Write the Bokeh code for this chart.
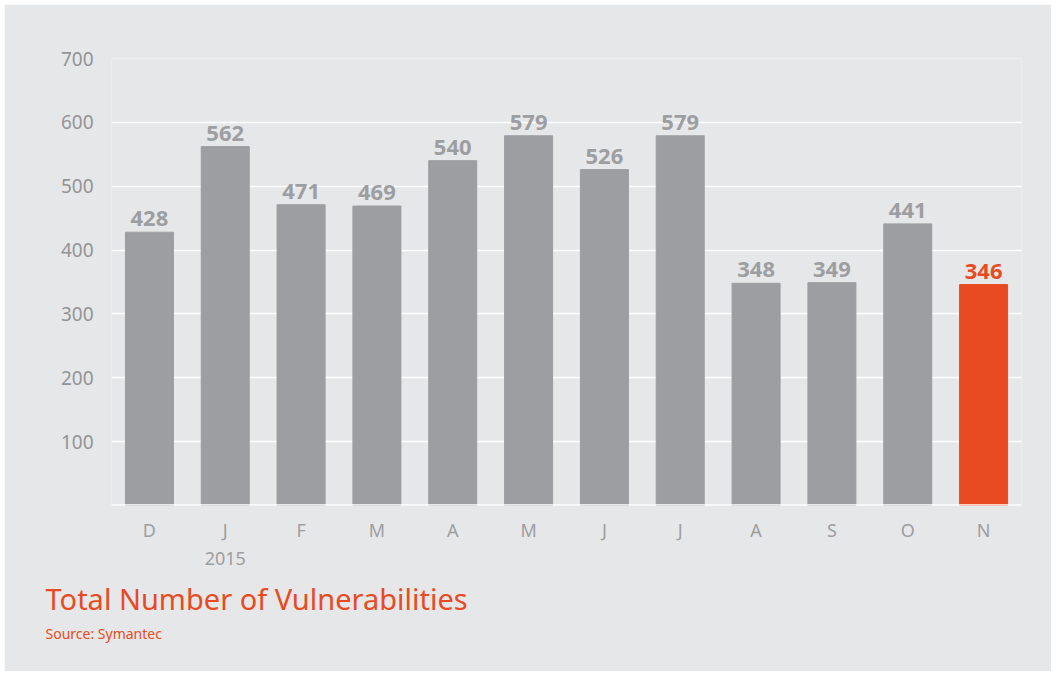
from bokeh.plotting import figure
from bokeh.models import Range1d, FixedTicker, ColumnDataSource, Span, Title
from bokeh.core.properties import value
from bokeh.embed import file_html
from bokeh.resources import INLINE

months = ["D", "J", "F", "M", "A", "M", "J", "J", "A", "S", "O", "N"]
counts = [428, 562, 471, 469, 540, 579, 526, 579, 348, 349, 441, 346]
year_label = "2015"
y_ticks = [100, 200, 300, 400, 500, 600, 700]

GRAY = "#9d9ea1"
ORANGE = "#e84b22"
BG = "#e6e7e8"
FONT = "Noto Sans"

xs = [i + 0.5 for i in range(len(months))]
colors = [GRAY] * (len(months) - 1) + [ORANGE]
label_colors = ["#9d9ea1"] * (len(months) - 1) + [ORANGE]
src = ColumnDataSource(dict(x=xs, top=counts, color=colors, lc=label_colors,
                            txt=[str(c) for c in counts]))

p = figure(width=1047, height=667, output_backend="svg", toolbar_location=None,
           x_range=Range1d(0, 12), y_range=Range1d(0, 700),
           background_fill_color=BG, border_fill_color=BG,
           min_border_left=107, min_border_right=30, min_border_top=54,
           min_border_bottom=166, margin=(4, 0, 0, 4))
p.outline_line_color = None

p.vbar(x="x", top="top", width=0.633, bottom=0, color="color", source=src)
p.text(x="x", y="top", text="txt", text_color="lc", source=src,
       text_font=value(FONT), text_font_size="22px", text_font_style="bold",
       text_align="center", text_baseline="bottom", y_offset=-6)

p.add_layout(Span(location=0, dimension="width", line_color="white", line_width=2.5))

# axes
p.xaxis.ticker = FixedTicker(ticks=xs)
overrides = {x: m for x, m in zip(xs, months)}
overrides[xs[1]] = months[1] + "\n" + year_label
p.xaxis.major_label_overrides = overrides
p.xaxis.axis_line_color = None
p.xaxis.major_tick_line_color = None
p.xaxis.minor_tick_line_color = None
p.xaxis.major_label_text_font = FONT
p.xaxis.major_label_text_font_size = "18px"
p.xaxis.major_label_text_color = "#9d9ea1"
p.xaxis.major_label_standoff = 6

p.yaxis.ticker = FixedTicker(ticks=y_ticks)
p.yaxis.axis_line_color = None
p.yaxis.major_tick_line_color = None
p.yaxis.minor_tick_line_color = None
p.yaxis.major_label_text_font = FONT
p.yaxis.major_label_text_font_size = "19px"
p.yaxis.major_label_text_color = "#939497"
p.yaxis.major_label_standoff = 12

p.xgrid.grid_line_color = None
p.ygrid.grid_line_color = "white"
p.ygrid.grid_line_width = 1.5

p.add_layout(Title(text="Total Number of Vulnerabilities", align="left", offset=-66,
                   text_color=ORANGE, text_font=FONT, text_font_size="29px",
                   text_font_style="normal", standoff=6), "below")
p.add_layout(Title(text="Source: Symantec", align="left", offset=-66,
                   text_color=ORANGE, text_font=FONT, text_font_size="14px",
                   text_font_style="normal", standoff=3), "below")

open("out.html", "w").write(file_html(p, INLINE))
